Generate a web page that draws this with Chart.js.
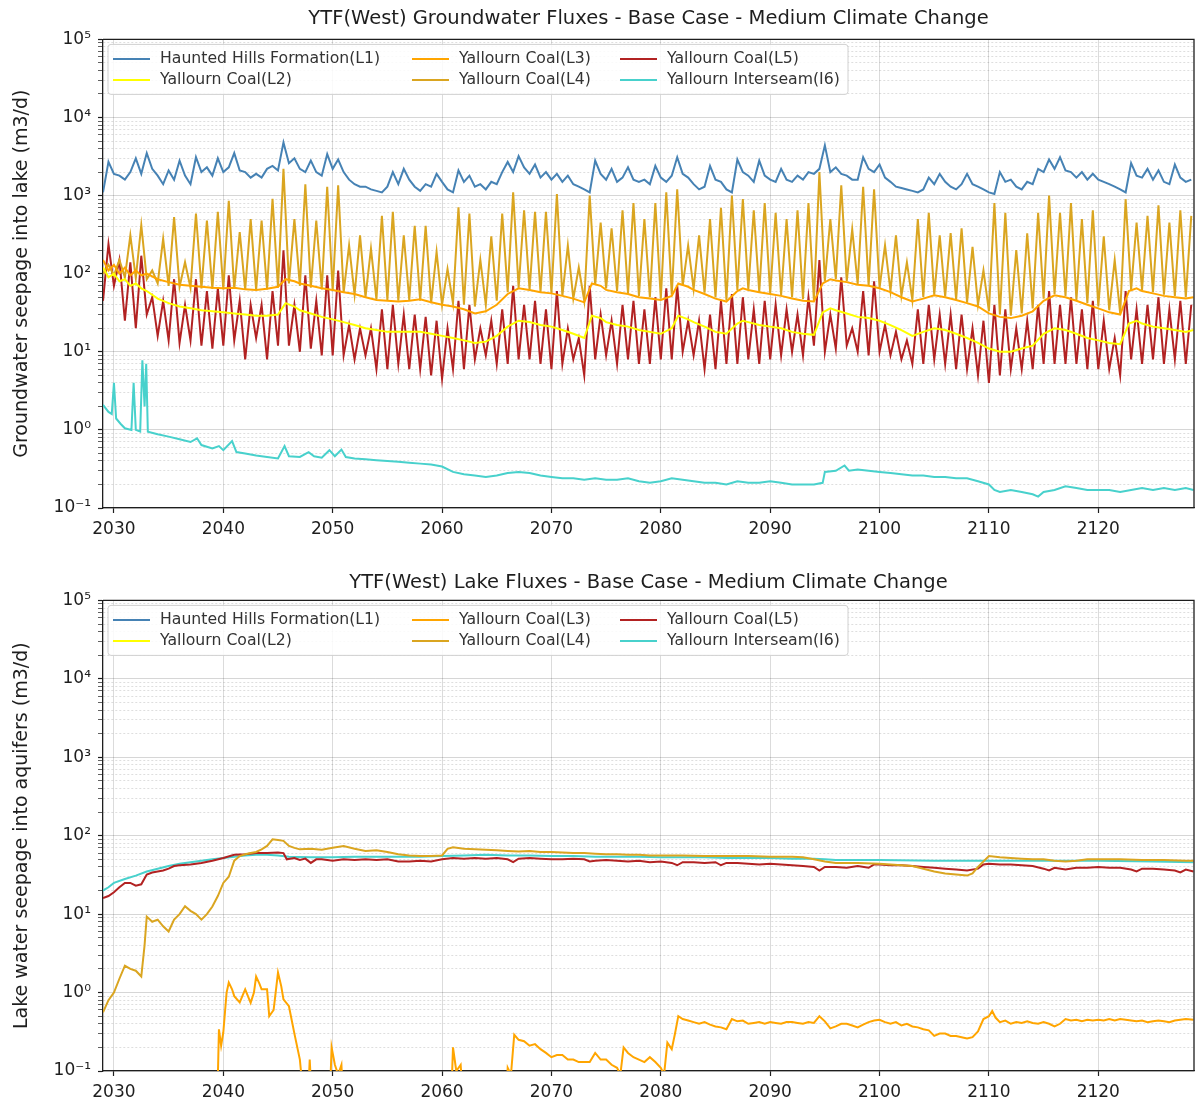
<!DOCTYPE html>
<html>
<head>
<meta charset="utf-8">
<script src="https://cdn.jsdelivr.net/npm/chart.js@4.4.1/dist/chart.umd.min.js"></script>
<style>
  html, body { margin: 0; padding: 0; background: #ffffff; }
  #wrap { position: relative; width: 1195px; height: 1106px; overflow: hidden; }
  canvas { position: absolute; left: 0; display: block; }
</style>
</head>
<body>
<div id="wrap">
  <canvas id="gw" width="1195" height="553" style="top:0px"></canvas>
  <canvas id="lake" width="1195" height="553" style="top:553px"></canvas>
</div>
<script>
// ---- series names and axis ticks ----
const seriesNames = [
  'Haunted Hills Formation(L1)', 'Yallourn Coal(L2)', 'Yallourn Coal(L3)',
  'Yallourn Coal(L4)', 'Yallourn Coal(L5)', 'Yallourn Interseam(I6)'
];
const yearTicks = [2030, 2040, 2050, 2060, 2070, 2080, 2090, 2100, 2110, 2120];
const decadeTicks = [0.1, 1, 10, 100, 1000, 10000, 100000];

// half-yearly records (start of year, mid-year) from 2029.0
const halfYearStart = 2029.0;
const halfYearStep = 0.5;

// ---- groundwater seepage into lake (m3/d) ----
const gwL1 = [
  1100,2700, 1900,1800, 1600,2000, 3000,1900, 3500,2200, 1800,1400, 2100,1600, 2800,1800, 1400,3100, 2000,2300,
  1800,3000, 2000,2300, 3500,2100, 2000,1700, 1900,1700, 2200,2400, 2100,4800, 2600,3000, 2200,2000, 2800,2000,
  1800,3400, 2200,2900, 2000,1600, 1400,1300, 1300,1200, 1150,1100, 1300,2000, 1400,2200, 1600,1300, 1150,1400,
  1300,1900, 1500,1200, 1100,2100, 1500,1800, 1300,1400, 1200,1500, 1400,2000, 2700,2000, 3200,2300, 1900,2500,
  1700,2000, 1600,1900, 1500,1800, 1400,1300, 1200,1100, 2800,1900, 1600,2200, 1500,1700, 2300,1600, 1500,1600,
  1400,2400, 1700,1500, 1800,3100, 1900,1700, 1400,1200, 1300,2400, 1600,1500, 1200,1100, 2900,2000, 1800,1500,
  2800,1800, 1600,1500, 2200,1600, 1500,1800, 1600,2000, 1900,2200, 4400,2000, 2300,1900, 1800,1600, 1600,3100,
  2200,2000, 2500,1700, 1500,1300, 1250,1200, 1150,1100, 1200,1700, 1400,1900, 1500,1300, 1200,1400, 1900,1400,
  1300,1200, 1100,1050, 2000,1500, 1600,1300, 1200,1500, 1400,2200, 2000,2900, 2200,3100, 2100,2000, 1700,2000,
  1600,1900, 1600,1500, 1400,1300, 1200,1100, 2600,1800, 1700,2200, 1600,2100, 1500,1400, 2500,1700, 1500,1600
];
const gwL4 = [
  100,130, 95,150, 90,310, 88,420, 85,110, 75,280, 70,530, 68,140, 66,590, 65,480,
  64,620, 63,860, 64,340, 62,500, 62,480, 63,910, 66,2200, 75,500, 70,1400, 66,480,
  63,1300, 60,1350, 57,230, 54,310, 50,210, 47,550, 46,620, 45,310, 46,410, 45,410,
  42,190, 40,115, 42,710, 40,590, 38,150, 40,300, 45,590, 58,1100, 66,650, 62,620,
  58,620, 56,1050, 52,230, 48,120, 45,1000, 72,450, 65,380, 60,650, 56,800, 52,500,
  50,800, 48,1100, 54,1200, 70,230, 64,310, 57,500, 50,700, 46,1000, 62,900, 63,650,
  58,800, 56,600, 53,500, 50,650, 47,800, 45,2000, 80,500, 85,1350, 80,370, 74,1300,
  70,1200, 66,230, 60,310, 52,140, 46,500, 50,600, 54,310, 51,330, 47,380, 43,220,
  40,110, 33,800, 30,600, 29,200, 31,330, 36,600, 48,1000, 55,600, 52,800, 46,500,
  42,650, 38,300, 34,150, 31,900, 62,450, 62,550, 58,750, 54,450, 52,650, 50,550
];
const gwL5 = [
  45,240, 70,150, 25,140, 20,170, 30,50, 16,45, 14,85, 13,40, 14,85, 12,60,
  11,65, 12,95, 14,45, 8,40, 15,40, 8,60, 12,200, 12,40, 10,95, 11,45,
  9,95, 9,110, 9,22, 8,20, 9,20, 6,35, 6,40, 7,30, 6,30, 6,28,
  5,25, 4.5,20, 6,45, 6,40, 8,20, 9,25, 7,35, 7,70, 8,40, 8,45,
  7,35, 6,60, 7,20, 8,15, 5,70, 8,30, 9,25, 7,40, 8,45, 7,35,
  7,50, 8,65, 8,70, 10,25, 9,25, 6,30, 6,45, 7,55, 7,50, 8,35,
  7,45, 8,40, 9,35, 10,30, 9,50, 12,150, 10,30, 11,90, 12,20, 10,60,
  9,80, 10,22, 9,18, 8,14, 7,35, 7,40, 8,30, 7,30, 6,30, 6,20,
  5,25, 4,40, 5,35, 6,20, 6,25, 6,40, 7,60, 7,40, 7,50, 7,35,
  6,45, 6,25, 6,15, 5,60, 8,35, 7,40, 8,50, 7,35, 8,45, 7,40
];

const gwL2Years = [
  2029.0,2029.5,2030,2030.5,2031,2031.5,2032,2032.5,2033,2034,2035,2036,2037,2038,2039,2040,2041,2042,2043,2044,
  2045,2045.7,2046.5,2047,2048,2049,2050,2051,2052,2053,2054,2055,2056,2057,2058,2059,2060,2061,2062,2063,
  2064,2065,2066,2067,2068,2069,2070,2071,2072,2073,2073.7,2074.5,2075,2076,2077,2078,2079,2080,2081,2081.6,
  2082.5,2083,2084,2085,2086,2087,2087.5,2088,2089,2090,2091,2092,2093,2094,2094.8,2095.5,2096,2097,2098,2099,
  2100,2101,2102,2103,2104,2105,2106,2107,2108,2109,2110,2111,2112,2113,2114,2115,2116,2117,2118,2119,
  2120,2121,2122,2122.8,2123.5,2124,2125,2126,2127,2128,2128.7
];
const gwL2 = [
  120,90,100,80,85,70,75,65,60,48,42,38,36,34,33,32,31,30,29,29,
  30,42,38,34,31,28,26,24,22,20,19,18,18,18,18,17,16,15,14,13,
  13.5,16,21,25,24,22,21,19,17,15,29,27,24,22,21,19,18,17,20,29,
  26,24,21,18,17,23,25,24,22,21,20,18,17,16.5,32,36,34,31,28,27,
  25,22,19,16,18,20,19,17,15,13,11,10,10,11,12,17,20,19,17,15,
  14,13,12.5,23,25,23,21,20,19,18,19
];
const gwL3Years = gwL2Years;
const gwL3 = [
  150,110,130,100,120,95,110,95,100,85,78,72,70,68,66,65,66,63,62,64,
  68,85,80,75,70,65,62,58,55,50,46,45,44,45,47,43,40,38,35,31,
  33,40,55,65,62,58,56,52,48,43,75,70,62,58,55,50,48,46,52,75,
  68,62,55,48,44,60,65,62,58,55,52,48,45,44,75,85,82,78,72,70,
  65,58,50,44,48,53,50,46,42,38,31,28,27,29,33,45,53,50,45,40,
  36,32,30,60,65,60,56,52,50,48,50
];

const gwI6Years = [
  2029.0,2029.5,2029.8,2030.0,2030.2,2030.6,2031.0,2031.6,2031.8,2032.0,2032.4,2032.6,2032.8,2032.95,2033.1,2034,2035,2036,2037,2037.6,
  2038,2039,2039.6,2040,2040.8,2041.2,2042,2043,2044,2045,2045.6,2046,2047,2047.8,2048.3,2049,2049.7,2050.2,2050.8,2051.2,
  2052,2053,2054,2055,2056,2057,2058,2059,2060,2061,2062,2063,2064,2065,2066,2067,2068,2069,2070,2071,
  2072,2073,2074,2075,2076,2077,2078,2079,2080,2081,2082,2083,2084,2085,2086,2087,2088,2089,2090,2091,
  2092,2093,2094,2094.8,2095,2096,2096.8,2097.2,2098,2099,2100,2101,2102,2103,2104,2105,2106,2107,2108,2109,
  2110,2110.5,2111,2112,2113,2114,2114.5,2115,2116,2117,2118,2119,2120,2121,2122,2123,2124,2125,2126,2127,
  2128,2128.7
];
const gwI6 = [
  2.1,1.7,1.6,4.0,1.4,1.2,1.05,1.0,4.0,1.0,0.95,7.8,2.0,7.0,0.95,0.88,0.82,0.76,0.7,0.78,
  0.64,0.58,0.62,0.55,0.72,0.52,0.5,0.47,0.45,0.43,0.62,0.46,0.45,0.52,0.46,0.44,0.55,0.46,0.56,0.45,
  0.43,0.42,0.41,0.4,0.39,0.38,0.37,0.36,0.34,0.29,0.27,0.26,0.25,0.26,0.28,0.29,0.28,0.26,0.25,0.24,
  0.24,0.23,0.24,0.23,0.23,0.24,0.22,0.21,0.22,0.24,0.23,0.22,0.21,0.21,0.2,0.22,0.21,0.21,0.22,0.21,
  0.2,0.2,0.2,0.21,0.29,0.3,0.35,0.3,0.31,0.3,0.29,0.28,0.27,0.26,0.26,0.25,0.25,0.24,0.24,0.22,
  0.2,0.17,0.16,0.17,0.16,0.15,0.14,0.16,0.17,0.19,0.18,0.17,0.17,0.17,0.16,0.17,0.18,0.17,0.18,0.17,
  0.18,0.17
];

// ---- lake water seepage into aquifers (m3/d) ----
const lakeL1Years = [];
const lakeL1 = [];
const lakeL2Years = [];
const lakeL2 = [];

const lakeL3Years = [
  2039.4,2039.6,2039.8,2040.0,2040.3,2040.5,2040.8,2041.0,2041.5,2042.0,2042.5,2042.8,2043.0,2043.3,2043.5,2044.0,2044.2,2044.6,2045.0,2045.3,
  2045.5,2046.0,2046.5,2047.0,2047.3,2047.7,2047.9,2048.1,2049.7,2049.9,2050.2,2050.5,2050.8,2051.0,2060.8,2061.0,2061.3,2061.7,2062.0,2065.8,
  2066.0,2066.3,2066.6,2067,2067.5,2068,2068.5,2069,2069.5,2070,2070.5,2071,2071.5,2072,2072.5,2073,2073.5,2074,2074.5,2075,
  2075.5,2076,2076.3,2076.6,2077,2077.5,2078,2078.5,2079,2079.5,2080,2080.3,2080.6,2081,2081.3,2081.6,2082,2082.5,2083,2083.5,
  2084,2084.5,2085,2085.5,2086,2086.5,2087,2087.5,2088,2088.5,2089,2089.5,2090,2090.5,2091,2091.5,2092,2092.5,2093,2093.5,
  2094,2094.5,2095,2095.5,2096,2096.5,2097,2097.5,2098,2098.5,2099,2099.5,2100,2100.5,2101,2101.5,2102,2102.5,2103,2103.5,
  2104,2104.5,2105,2105.5,2106,2106.5,2107,2107.5,2108,2108.5,2109,2109.5,2110,2110.3,2110.6,2111,2111.5,2112,2112.5,2113,
  2113.5,2114,2114.5,2115,2115.5,2116,2116.5,2117,2117.5,2118,2118.5,2119,2119.5,2120,2120.5,2121,2121.5,2122,2122.5,2123,
  2123.5,2124,2124.5,2125,2125.5,2126,2126.5,2127,2127.5,2128,2128.7
];
const lakeL3 = [
  0.02,0.34,0.21,0.31,1.0,1.34,1.1,0.9,0.75,1.1,0.74,1.0,1.6,1.3,1.1,1.1,0.5,0.6,1.8,1.2,
  0.82,0.67,0.3,0.14,0.05,0.03,0.14,0.04,0.03,0.2,0.12,0.09,0.12,0.03,0.03,0.2,0.1,0.12,0.03,0.03,
  0.11,0.09,0.29,0.25,0.24,0.21,0.22,0.19,0.17,0.15,0.16,0.16,0.14,0.14,0.13,0.13,0.13,0.17,0.14,0.14,
  0.12,0.11,0.09,0.2,0.17,0.15,0.14,0.13,0.15,0.13,0.11,0.09,0.23,0.19,0.3,0.5,0.46,0.44,0.42,0.4,
  0.42,0.39,0.37,0.36,0.34,0.46,0.43,0.44,0.4,0.41,0.42,0.4,0.42,0.41,0.4,0.42,0.42,0.41,0.4,0.42,
  0.41,0.5,0.43,0.35,0.37,0.4,0.4,0.38,0.36,0.39,0.42,0.44,0.45,0.42,0.4,0.42,0.38,0.4,0.37,0.36,
  0.34,0.33,0.28,0.3,0.3,0.28,0.28,0.27,0.26,0.27,0.32,0.46,0.5,0.58,0.48,0.42,0.44,0.4,0.42,0.41,
  0.43,0.41,0.4,0.42,0.4,0.37,0.4,0.46,0.44,0.45,0.43,0.45,0.44,0.45,0.44,0.46,0.44,0.46,0.45,0.44,
  0.43,0.44,0.42,0.43,0.44,0.43,0.42,0.44,0.45,0.46,0.45
];

const lakeL4Years = [
  2029.0,2029.5,2030.0,2030.5,2031.0,2031.5,2032.0,2032.5,2032.8,2033.0,2033.5,2034.0,2034.5,2035.0,2035.5,2036.0,2036.5,2037.0,2037.5,2038.0,
  2038.5,2039.0,2039.5,2040.0,2040.5,2041.0,2041.5,2042.0,2042.5,2043.0,2043.5,2044.0,2044.5,2045.0,2045.5,2046.0,2046.5,2047,2048,2049,
  2050,2051,2052,2053,2054,2055,2056,2057,2058,2059,2060,2060.5,2061,2062,2063,2064,2065,2066,2067,2068,
  2069,2070,2071,2072,2073,2074,2075,2076,2077,2078,2079,2080,2082,2084,2086,2088,2090,2092,2093,2094,
  2095,2096,2098,2100,2102,2103,2104,2105,2106,2107,2108,2108.5,2109,2110,2111,2112,2113,2114,2115,2116,
  2117,2118,2119,2120,2122,2124,2126,2128,2128.7
];
const lakeL4 = [
  0.56,0.8,1.0,1.5,2.2,2.0,1.9,1.6,4,9.3,8.0,8.5,7,6,8.5,10,12.6,11,10,8.5,
  10,12.5,17,25,30,48,55,58,60,62,67,74,90,88,86,74,70,67,68,66,
  70,74,68,64,65,62,58,56,55,55,56,68,71,68,67,66,65,64,63,64,
  62,62,61,60,60,59,58,58,57,57,56,56,56,55,55,55,54,54,53,50,
  47,45,45,44,42,41,38,35,33,32,31,33,40,55,53,52,51,50,50,48,
  47,48,50,50,50,49,49,48,48
];

const lakeL5Years = [
  2029.0,2029.5,2030,2030.5,2031,2031.5,2032,2032.5,2033,2033.5,2034,2034.5,2035,2035.5,2036,2037,2038,2039,2040,2041,
  2042,2043,2044,2045,2045.5,2045.8,2046.5,2047,2047.5,2048,2048.5,2049,2050,2051,2052,2053,2054,2055,2056,2057,
  2058,2059,2060,2061,2062,2063,2064,2065,2066,2066.5,2067,2068,2069,2070,2071,2072,2073,2073.5,2074,2075,
  2076,2077,2078,2079,2080,2081,2081.5,2082,2083,2084,2085,2085.5,2086,2087,2088,2089,2090,2091,2092,2093,
  2094,2094.5,2095,2096,2097,2098,2099,2099.5,2100,2101,2102,2103,2104,2105,2106,2107,2108,2109,2109.5,2110,
  2111,2112,2113,2114,2115,2115.5,2116,2117,2118,2119,2120,2121,2122,2123,2123.5,2124,2125,2126,2127,2127.5,
  2128,2128.7
];
const lakeL5 = [
  16,17,19,22,25,25,23,24,32,34,35,36,38,41,42,43,45,48,52,57,
  58,60,60,61,60,50,52,49,51,45,50,50,48,50,49,50,49,50,47,47,
  48,47,50,52,51,52,51,52,50,46,51,52,51,50,50,51,50,47,48,49,
  48,47,48,46,47,45,42,46,46,45,46,42,45,45,44,43,44,43,42,41,
  40,36,40,40,39,41,39,43,43,42,42,41,40,39,38,37,36,38,43,44,
  43,43,42,41,38,36,39,37,39,39,40,39,39,37,35,38,38,37,36,34,
  37,35
];

const lakeI6Years = [
  2029.0,2029.5,2030,2031,2032,2033,2034,2035,2036,2037,2038,2039,2040,2041,2042,2043,2044,2045,2046,2048,
  2050,2052,2054,2056,2058,2060,2062,2064,2066,2068,2070,2072,2074,2076,2078,2080,2082,2084,2086,2088,
  2090,2092,2094,2095,2096,2100,2105,2110,2115,2120,2125,2128.7
];
const lakeI6 = [
  20,22,25,28,31,35,38,41,44,46,48,50,52,54,56,57,57,56,54,53,
  53,54,54,54,54,55,56,57,56,56,55,55,54,54,54,53,53,53,52,52,
  52,51,51,50,49,49,48,48,48,48,47,46
];

// ---- helpers ----
function halfYearPoints(values) {
  return values.map((v, i) => ({ x: halfYearStart + i * halfYearStep, y: v }));
}
function pairPoints(xs, ys) {
  return xs.map((x, i) => ({ x: x, y: ys[i] }));
}
function isPow10(v) {
  const l = Math.log10(v);
  return Math.abs(l - Math.round(l)) < 1e-6;
}
const SUP = { '-': '\u207B', '0': '\u2070', '1': '\u00B9', '2': '\u00B2', '3': '\u00B3',
  '4': '\u2074', '5': '\u2075', '6': '\u2076', '7': '\u2077', '8': '\u2078', '9': '\u2079' };
function powLabel(v) {
  const e = String(Math.round(Math.log10(v)));
  return '10' + e.split('').map(c => SUP[c]).join('');
}

// ---- styling ----
const FONT = 'DejaVu Sans';
const INK = '#1e1e1e';
const lineColors = ['#4682b4', '#ffff00', '#ffa500', '#daa520', '#b22222', '#48d1cc'];

// legend drawn inside the plot, three columns of two entries
const insetLegend = {
  id: 'insetLegend',
  afterDatasetsDraw(chart) {
    const { ctx, chartArea: a } = chart;
    const ds = chart.data.datasets;
    const bx = a.left + 5, by = a.top + 5, bw = 740, bh = 50;
    ctx.save();
    ctx.beginPath();
    if (ctx.roundRect) ctx.roundRect(bx, by, bw, bh, 3); else ctx.rect(bx, by, bw, bh);
    ctx.fillStyle = 'rgba(255,255,255,0.85)';
    ctx.fill();
    ctx.strokeStyle = '#d0d0d0';
    ctx.lineWidth = 1;
    ctx.stroke();
    const colX = [bx + 5, bx + 304, bx + 512];
    const rowY = [by + 14.5, by + 35.5];
    ctx.font = '15.7px "' + FONT + '"';
    ctx.textBaseline = 'middle';
    ctx.textAlign = 'left';
    ds.forEach((d, i) => {
      const cx = colX[Math.floor(i / 2)];
      const cy = rowY[i % 2];
      ctx.strokeStyle = d.borderColor;
      ctx.lineWidth = 2;
      ctx.beginPath();
      ctx.moveTo(cx, cy);
      ctx.lineTo(cx + 37, cy);
      ctx.stroke();
      ctx.fillStyle = '#333';
      ctx.fillText(d.label, cx + 47, cy + 0.5);
    });
    ctx.restore();
  }
};

// closes the frame on the top and right sides
const frameBox = {
  id: 'frameBox',
  afterDraw(chart) {
    const { ctx, chartArea: a } = chart;
    ctx.save();
    ctx.strokeStyle = INK;
    ctx.lineWidth = 1.3;
    ctx.beginPath();
    ctx.moveTo(a.left, a.top);
    ctx.lineTo(a.right, a.top);
    ctx.lineTo(a.right, a.bottom);
    ctx.stroke();
    ctx.restore();
  }
};

function buildChart(canvasId, titleText, yTitle, seriesData, lay) {
  const datasets = seriesData.map((pts, i) => ({
    label: seriesNames[i],
    data: pts,
    borderColor: lineColors[i],
    backgroundColor: lineColors[i],
    borderWidth: 2,
    pointRadius: 0,
    pointHoverRadius: 0,
    fill: false,
    tension: 0
  }));
  return new Chart(document.getElementById(canvasId), {
    type: 'line',
    data: { datasets: datasets },
    plugins: [insetLegend, frameBox],
    options: {
      responsive: false,
      animation: false,
      devicePixelRatio: 1,
      events: [],
      layout: { padding: { left: 0, right: 1, top: 0, bottom: 0 } },
      plugins: {
        legend: { display: false },
        tooltip: { enabled: false },
        title: {
          display: true,
          text: titleText,
          fullSize: false,
          color: INK,
          font: { family: FONT, size: 19.5, weight: 'normal' },
          padding: { top: lay.titleTop, bottom: lay.titleBottom }
        }
      },
      scales: {
        x: {
          type: 'linear',
          min: 2029.0,
          max: 2128.75,
          afterBuildTicks: s => { s.ticks = yearTicks.map(v => ({ value: v })); },
          afterFit: s => { s.height = lay.xHeight; },
          ticks: {
            autoSkip: false, maxRotation: 0, padding: 6,
            color: INK, font: { family: FONT, size: 17 },
            callback: v => String(v)
          },
          grid: { color: 'rgba(0,0,0,0.14)', lineWidth: 1, tickLength: 5, tickColor: INK, tickWidth: 1.2 },
          border: { color: INK, width: 1.3 }
        },
        y: {
          type: 'logarithmic',
          min: 0.1,
          max: 100000,
          afterBuildTicks: s => {
            const t = [];
            decadeTicks.forEach(d => {
              for (let m = 1; m <= 9; m++) {
                const v = +(m * d).toPrecision(6);
                if (v <= 100000) t.push({ value: v });
              }
            });
            s.ticks = t;
          },
          afterFit: s => { s.width = 103; },
          ticks: {
            autoSkip: false, padding: 7,
            color: INK, font: { family: FONT, size: 17 },
            callback: v => isPow10(v) ? powLabel(v) : ''
          },
          grid: {
            color: c => (c.tick && isPow10(c.tick.value)) ? 'rgba(0,0,0,0.16)' : 'rgba(0,0,0,0.13)',
            lineWidth: 1,
            tickLength: 5,
            tickColor: INK,
            tickWidth: c => (c.tick && isPow10(c.tick.value)) ? 1.2 : 0.7
          },
          border: {
            color: INK, width: 1.3,
            dash: c => (c.tick && !isPow10(c.tick.value)) ? [2, 2] : []
          },
          title: {
            display: true,
            text: yTitle,
            color: INK,
            font: { family: FONT, size: 19 },
            padding: { top: 11, bottom: 0 }
          }
        }
      }
    }
  });
}

buildChart('gw',
  'YTF(West) Groundwater Fluxes - Base Case - Medium Climate Change',
  'Groundwater seepage into lake (m3/d)',
  [
    halfYearPoints(gwL1),
    pairPoints(gwL2Years, gwL2),
    pairPoints(gwL3Years, gwL3),
    halfYearPoints(gwL4),
    halfYearPoints(gwL5),
    pairPoints(gwI6Years, gwI6)
  ],
  { titleTop: 7, titleBottom: 9, xHeight: 45 }
);

buildChart('lake',
  'YTF(West) Lake Fluxes - Base Case - Medium Climate Change',
  'Lake water seepage into aquifers (m3/d)',
  [
    pairPoints(lakeL1Years, lakeL1),
    pairPoints(lakeL2Years, lakeL2),
    pairPoints(lakeL3Years, lakeL3),
    pairPoints(lakeL4Years, lakeL4),
    pairPoints(lakeL5Years, lakeL5),
    pairPoints(lakeI6Years, lakeI6)
  ],
  { titleTop: 18, titleBottom: 6, xHeight: 35 }
);
</script>
</body>
</html>
